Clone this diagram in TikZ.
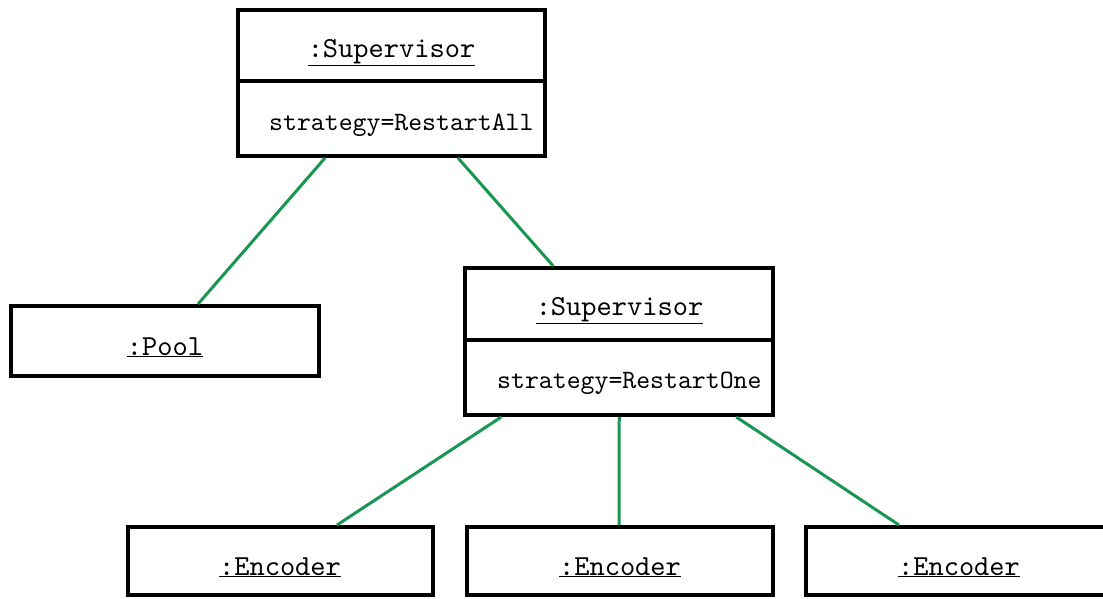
\documentclass[tikz,border=0pt]{standalone}
\usepackage{fontspec}
\setmonofont{lmmono10-regular.otf}
\definecolor{assoc}{RGB}{24,150,82}
\tikzset{
  objbox/.style={draw=black, line width=4pt, fill=white, rectangle, inner sep=0pt},
  divider/.style={draw=black, line width=4pt},
  assocline/.style={draw=assoc, line width=3pt},
  nametext/.style={anchor=base, inner sep=0pt, font=\ttfamily\fontsize{29}{34}\selectfont},
  attrtext/.style={anchor=base west, inner sep=0pt, font=\ttfamily\fontsize{26.5}{32}\selectfont},
}
\begin{document}
\begin{tikzpicture}[x=1pt,y=-1pt]
\useasboundingbox (0,0) rectangle (1103,598);
% boxes
\node[objbox, minimum width=307pt, minimum height=146.5pt] (sup1) at (391.5,82.75) {};
\node[objbox, minimum width=308pt, minimum height=147pt] (sup2) at (619.25,341.5) {};
\node[objbox, minimum width=308pt, minimum height=70pt] (pool) at (165,341) {};
\node[objbox, minimum width=305pt, minimum height=68pt] (enc1) at (280,561) {};
\node[objbox, minimum width=306pt, minimum height=68pt] (enc2) at (620,561) {};
\node[objbox, minimum width=306pt, minimum height=68pt] (enc3) at (959,561) {};
% dividers
\draw[divider] (sup1.west |- 0,81) -- (sup1.east |- 0,81);
\draw[divider] (sup2.west |- 0,340) -- (sup2.east |- 0,340);
% texts
\node[nametext] (sup1name) at (391.5,57) {\underline{:Supervisor}};
\node[attrtext] (sup1attr) at (269,130) {strategy=RestartAll};
\node[nametext] (sup2name) at (619.5,315) {\underline{:Supervisor}};
\node[attrtext] (sup2attr) at (497,388) {strategy=RestartOne};
\node[nametext] (poolname) at (165,355) {\underline{:Pool}};
\node[nametext] (enc1name) at (280,575) {\underline{:Encoder}};
\node[nametext] (enc2name) at (620,575) {\underline{:Encoder}};
\node[nametext] (enc3name) at (959,575) {\underline{:Encoder}};
% connectors
\draw[assocline] ([xshift=-66.5pt]sup1.south) -- ([xshift=33pt]pool.north);
\draw[assocline] ([xshift=66.5pt]sup1.south) -- ([xshift=-66pt]sup2.north);
\draw[assocline] ([xshift=-118pt]sup2.south) -- ([xshift=57pt]enc1.north);
\draw[assocline] ([xshift=0pt]sup2.south) -- ([xshift=-1pt]enc2.north);
\draw[assocline] ([xshift=117pt]sup2.south) -- ([xshift=-60pt]enc3.north);
\end{tikzpicture}
\end{document}
